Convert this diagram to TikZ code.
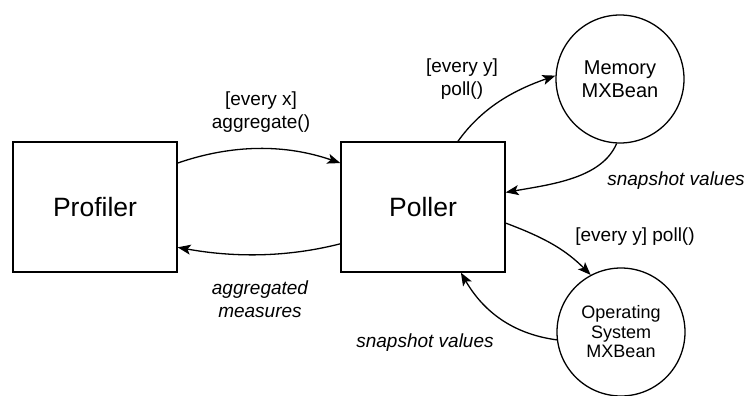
\documentclass[tikz,border=0pt]{standalone}
\usepackage{fontspec}
\setmainfont{Liberation Sans}
\usetikzlibrary{arrows.meta}
\begin{document}
\begin{tikzpicture}[x=1pt,y=-1pt,
  line width=1.3pt,
  box/.style={draw, rectangle, minimum width=164pt, minimum height=130pt,
    inner sep=0pt, font=\fontsize{26.5}{30}\selectfont},
  bean/.style={draw, circle, minimum size=128pt, inner sep=0pt, align=center},
  lbl/.style={align=center, inner sep=0pt, font=\fontsize{19}{23}\selectfont},
  ilbl/.style={lbl, font=\fontsize{19}{23}\selectfont\itshape},
  flow/.style={-{Stealth[length=13pt,width=10pt,inset=3pt]}}]
\useasboundingbox (0,0) rectangle (747,396);

% components
\node[box] (prof) at (95,207) {Profiler};
\node[box] (poll) at (423,207) {Poller};
\node[bean, font=\fontsize{20}{23}\selectfont] (mem) at (620,79) {Memory\\MXBean};
\node[bean, font=\fontsize{18}{19.5}\selectfont] (os) at (621,332) {Operating\\System\\MXBean};

% labels
\node[lbl] (aggL) at (261,112) {[every x]\\aggregate()};
\node[ilbl] (measL) at (260,299) {aggregated\\measures};
\node[lbl] (pollM) at (462,79) {[every y]\\poll()};
\node[ilbl] (snapM) at (676,181) {snapshot values};
\node[lbl] (pollO) at (635,237) {[every y] poll()};
\node[ilbl] (snapO) at (425,343) {snapshot values};

% connectors
\draw[flow] (prof.28) .. controls +(55,-19) and +(-55,-19) .. (poll.152);
\draw[flow] (poll.204) .. controls +(-55,14) and +(55,10) .. (prof.334);
\draw[flow] (poll.62) .. controls +(25,-35) and +(-40,14) .. (mem.177);
\draw[flow] (mem.267) .. controls +(-15,35) and +(45,-8) .. (poll.10);
\draw[flow] (poll.349) .. controls +(40,15) and +(-25,-25) .. (os.118);
\draw[flow] (os.187) .. controls +(-45,-6) and +(22,38) .. (poll.300);
\end{tikzpicture}
\end{document}
